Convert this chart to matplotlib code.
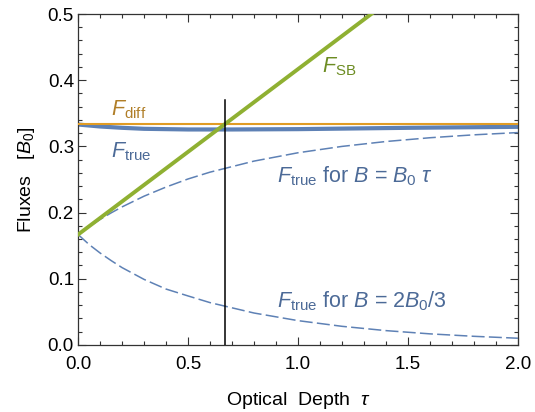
import numpy as np
import matplotlib
matplotlib.use("Agg")
import matplotlib.pyplot as plt
from matplotlib.ticker import MultipleLocator, FormatStrFormatter

plt.rcParams['font.family'] = ['Liberation Sans', 'DejaVu Sans']
plt.rcParams['mathtext.fontset'] = 'custom'
plt.rcParams['mathtext.rm'] = 'Liberation Sans'
plt.rcParams['mathtext.it'] = 'Liberation Sans:italic'

# --- DATA ---
tau_pts = [0.0, 0.05, 0.1, 0.15, 0.2, 0.3, 0.4, 0.5, 0.6, 0.8, 1.0, 1.2, 1.4, 1.6, 1.8, 2.0]
f_true_linear = [0.1667, 0.1786, 0.1895, 0.1994, 0.2085, 0.2247, 0.2385, 0.2507, 0.2610,
                 0.2777, 0.2903, 0.2999, 0.3073, 0.3130, 0.3174, 0.3208]
f_true_const = [0.1667, 0.1516, 0.1388, 0.1274, 0.1167, 0.0989, 0.0843, 0.0739, 0.0638,
                0.0481, 0.0366, 0.0280, 0.0215, 0.0166, 0.0129, 0.0100]

tau_true = [0.0, 0.1, 0.2, 0.3, 0.5, 0.7, 1.0, 1.5, 2.0]
f_true = [0.333, 0.330, 0.328, 0.3265, 0.3255, 0.3255, 0.326, 0.328, 0.3295]

tau_ends = [0.0, 2.0]
f_diff = [0.3333, 0.3333]
f_sb = [0.1667, 0.6667]

tau_cross = 2 / 3
cross_top = 0.37

# --- COLOURS ---
c_blue = '#5E81B5'
c_blue_txt = '#4C6A97'
c_orange = '#E19C24'
c_orange_txt = '#B07E28'
c_green = '#8FB032'
c_green_txt = '#6C8C22'

fig = plt.figure(figsize=(5.35, 4.12), dpi=100)
ax = fig.add_axes([0.146, 0.163, 0.822, 0.803])

ax.plot(tau_ends, f_diff, color=c_orange, lw=1.5, zorder=3)
ax.plot(tau_true, f_true, color=c_blue, lw=3.0, zorder=2)
ax.plot(tau_pts, f_true_linear, color=c_blue, lw=1.1, dashes=(8.5, 2.8), zorder=2)
ax.plot(tau_pts, f_true_const, color=c_blue, lw=1.1, dashes=(8.5, 2.8), zorder=2)
ax.plot(tau_ends, f_sb, color=c_green, lw=2.8, zorder=4)
ax.plot([tau_cross, tau_cross], [0.0, cross_top], color='black', lw=1.1, zorder=5)

ax.set_xlim(0, 2)
ax.set_ylim(0, 0.5)
ax.xaxis.set_major_locator(MultipleLocator(0.5))
ax.xaxis.set_minor_locator(MultipleLocator(0.1))
ax.yaxis.set_major_locator(MultipleLocator(0.1))
ax.yaxis.set_minor_locator(MultipleLocator(0.02))
ax.xaxis.set_major_formatter(FormatStrFormatter('%.1f'))
ax.yaxis.set_major_formatter(FormatStrFormatter('%.1f'))
ax.tick_params(which='both', direction='in', top=True, right=True, color='#333333', width=0.8)
ax.tick_params(which='major', length=5.5, labelsize=13.5)
ax.tick_params(which='minor', length=3.2)
ax.tick_params(axis='x', which='major', pad=8)
ax.tick_params(axis='y', which='major', pad=3)
for sp in ax.spines.values():
    sp.set_color('#333333')
    sp.set_linewidth(0.9)

ax.set_xlabel(r'Optical  Depth  $\tau$', fontsize=14, labelpad=12)
ax.set_ylabel(r'Fluxes   [$B_0$]', fontsize=14, labelpad=8)

lbl = 15.5
ax.text(0.15, 0.347, r'$F_{\rm diff}$', color=c_orange_txt, fontsize=lbl)
ax.text(0.15, 0.283, r'$F_{\rm true}$', color=c_blue_txt, fontsize=lbl)
ax.text(1.11, 0.411, r'$F_{\rm SB}$', color=c_green_txt, fontsize=lbl)
ax.text(0.905, 0.245, r'$F_{\rm true}$ for $B$ = $B_0$ $\tau$', color=c_blue_txt, fontsize=lbl)
ax.text(0.905, 0.057, r'$F_{\rm true}$ for $B$ = 2$B_0$/3', color=c_blue_txt, fontsize=lbl)

fig.savefig('out.png', dpi=100)
